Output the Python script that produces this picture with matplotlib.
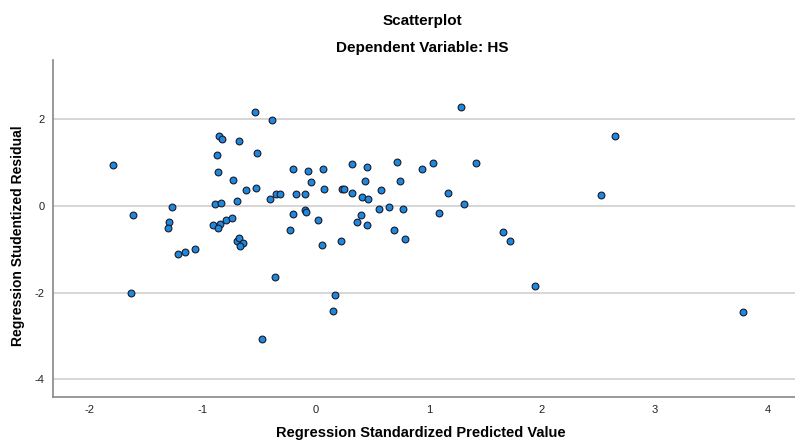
import numpy as np
import matplotlib.pyplot as plt

# Regression standardized predicted value (x) and studentized residual (y)
pred = [-1.80, -1.62, -1.64, -1.27, -1.30, -1.31, -1.22, -1.16, -1.07,
        -0.86, -0.83, -0.68, -0.88, -0.52, -0.87, -0.73, -0.62, -0.53,
        -0.70, -0.89, -0.84, -0.41, -0.35, -0.32, -0.54, -0.39,
        -0.91, -0.85, -0.87, -0.80, -0.74, -0.70, -0.68, -0.65, -0.67,
        -0.36, -0.48, -0.20, -0.07, 0.06, -0.04, 0.07, -0.18, -0.10,
        -0.10, -0.09, -0.20, 0.02, -0.23, 0.05, 0.17, 0.15, 0.22,
        0.23, 0.25, 0.32, 0.45, 0.43, 0.32, 0.41, 0.46, 0.58, 0.72,
        0.74, 0.94, 1.04, 0.56, 0.65, 0.77, 0.40, 0.36, 0.45, 0.69,
        0.79, 1.09, 1.28, 2.65, 1.42, 1.17, 1.31, 2.52, 1.66, 1.72,
        1.94, 3.78]
resid = [0.95, -0.20, -2.02, -0.02, -0.38, -0.52, -1.11, -1.06, -0.99,
         1.62, 1.55, 1.49, 1.18, 1.23, 0.79, 0.61, 0.36, 0.42,
         0.12, 0.05, 0.06, 0.17, 0.28, 0.28, 2.17, 1.99,
         -0.43, -0.42, -0.52, -0.33, -0.28, -0.80, -0.73, -0.85, -0.92,
         -1.63, -3.06, 0.85, 0.81, 0.86, 0.55, 0.39, 0.27, 0.28,
         -0.09, -0.15, -0.18, -0.32, -0.55, -0.89, -2.06, -2.42, -0.80,
         0.39, 0.39, 0.97, 0.89, 0.58, 0.29, 0.21, 0.15, 0.36, 1.02,
         0.57, 0.85, 0.99, -0.08, -0.03, -0.08, -0.21, -0.38, -0.45, -0.56,
         -0.77, -0.16, 2.28, 1.62, 1.00, 0.30, 0.05, 0.26, -0.59, -0.82,
         -1.84, -2.45]

xticks = [-2, -1, 0, 1, 2, 3, 4]
yticks = [-4, -2, 0, 2]

plt.rcParams['font.family'] = ['Liberation Sans', 'DejaVu Sans']
plt.rcParams['axes.unicode_minus'] = False

fig = plt.figure(figsize=(7.95, 4.41), dpi=100)
ax = fig.add_axes([0.0667, 0.0998, 0.9333, 0.7642])

ax.scatter(pred, resid, s=24, c='#1e88dc', edgecolors='#1a1a2a',
           linewidths=0.8, zorder=3)

ax.set_xlim(-2.327, 4.24)
ax.set_ylim(-4.41, 3.37)
ax.set_xticks(xticks)
ax.set_yticks(yticks)
ax.grid(axis='y', color='#d0d0d0', linewidth=1.2)
ax.set_axisbelow(True)
ax.tick_params(length=0, labelsize=8, colors='#222222')
ax.tick_params(axis='x', pad=6)
ax.tick_params(axis='y', pad=6)
for side in ['top', 'right']:
    ax.spines[side].set_visible(False)
for side in ['left', 'bottom']:
    ax.spines[side].set_color('#888888')
    ax.spines[side].set_linewidth(1.2)

ax.set_xlabel('Regression Standardized Predicted Value', fontsize=10.5,
              fontweight='bold', va='center')
ax.xaxis.set_label_coords(0.496, -0.106)
ax.set_ylabel('Regression Studentized Residual', fontsize=10,
              fontweight='bold', va='center')
ax.yaxis.set_label_coords(-0.047, 0.48)

fig.text(0.531, 0.952, 'Scatterplot', ha='center', va='center',
         fontsize=11, fontweight='bold')
fig.text(0.531, 0.891, 'Dependent Variable: HS', ha='center', va='center',
         fontsize=11, fontweight='bold')

fig.savefig('out.png', dpi=100)
